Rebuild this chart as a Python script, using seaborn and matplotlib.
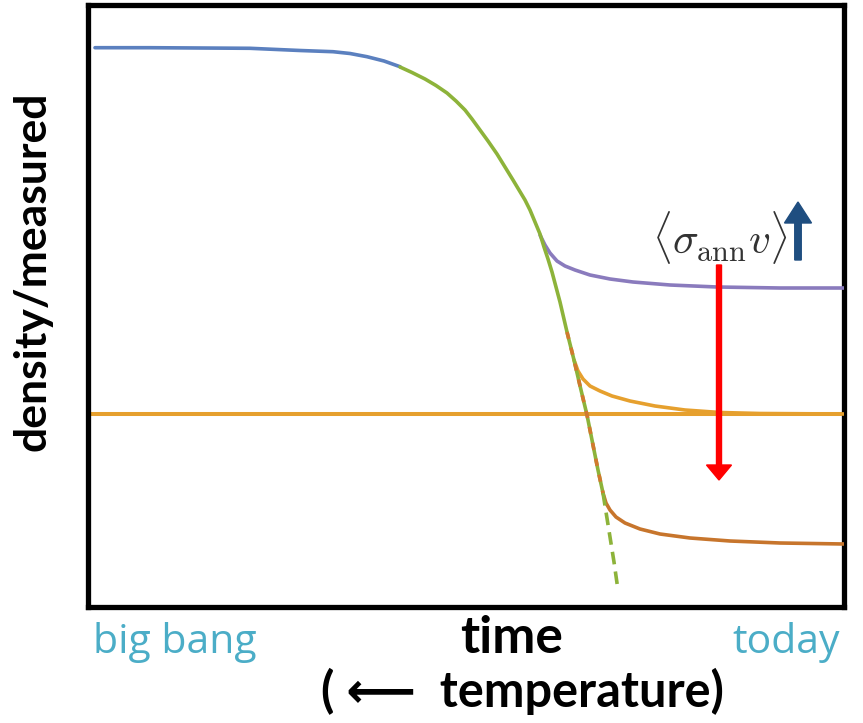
import numpy as np
import matplotlib
matplotlib.use("Agg")
import matplotlib.pyplot as plt
import seaborn as sns

# curves (x = time, y = density, arbitrary units)
blue_x = [7, 62, 112, 162, 212, 245, 262, 279, 296, 312]
blue_y = [559.3, 559.3, 559, 558.7, 556.5, 555.3, 553.5, 550.3, 546, 540.3]

green_x = [312, 324, 337, 348, 359, 368, 377, 384, 392, 400, 409, 417, 425, 431, 437, 442,
           447, 452, 456, 460, 464, 468, 472, 479, 486, 493, 499, 505, 510, 515]
green_y = [540, 534.5, 528, 521.5, 514, 506, 497, 488, 477, 466, 453, 440, 427, 417, 407, 397,
           385, 373, 360, 348, 335, 320, 305, 275, 247, 217, 192, 162, 137, 114]

green_dash_x = [515, 518, 522, 526, 530]
green_dash_y = [114, 95, 70, 45, 17]

purple_x = [452, 457, 462, 469, 477, 487, 502, 522, 545, 582, 629, 692, 756]
purple_y = [372, 362, 354, 346, 341, 337, 332, 328, 325, 322, 320, 319, 319]

orange_x = [486, 490, 495, 502, 512, 524, 542, 567, 597, 632, 672, 756]
orange_y = [247, 236, 228, 221, 216, 211, 206, 201, 197, 194.5, 193.5, 193]

brown_x = [515, 518, 522, 528, 537, 552, 572, 602, 642, 692, 756]
brown_y = [114, 104, 97, 90, 84, 78, 73, 69, 66, 64, 63]

measured = 193          # observed relic density
red_arrow = (631, 342, 127)
blue_arrow = (710, 347, 405)

sns.set_theme(style="white")
plt.rcParams["mathtext.fontset"] = "cm"
plt.rcParams["text.color"] = "black"

fig = plt.figure(figsize=(8.63, 7.23), dpi=100)
ax = fig.add_axes([88 / 863, 1 - 607 / 723, 756 / 863, 602 / 723])
ax.set_xlim(0, 756)
ax.set_ylim(0, 602)
ax.set_xticks([])
ax.set_yticks([])
for s in ax.spines.values():
    s.set_linewidth(3.8)
    s.set_color("black")

lw = 2.6
ax.axhline(measured, color="#E6A02E", lw=2.9, zorder=2)
sns.lineplot(x=purple_x, y=purple_y, ax=ax, color="#8A7BBD", lw=lw, sort=False, zorder=3)
sns.lineplot(x=orange_x, y=orange_y, ax=ax, color="#E6A02E", lw=lw, sort=False, zorder=3)
sns.lineplot(x=brown_x, y=brown_y, ax=ax, color="#C7752C", lw=lw, sort=False, zorder=3)
sns.lineplot(x=blue_x, y=blue_y, ax=ax, color="#5B80BF", lw=lw, sort=False, zorder=4)
sns.lineplot(x=green_x, y=green_y, ax=ax, color="#8DB33A", lw=lw, sort=False, zorder=4)
sns.lineplot(x=green_dash_x, y=green_dash_y, ax=ax, color="#8DB33A", lw=lw, sort=False,
             zorder=4, linestyle=(0, (3.5, 2)))
# brown dashes over the equilibrium part
sns.lineplot(x=green_x[23:], y=green_y[23:], ax=ax, color="#D2792E", lw=lw, sort=False,
             zorder=5, linestyle=(0, (2, 2.5)))

ax.arrow(red_arrow[0], red_arrow[1], 0, red_arrow[2] - red_arrow[1], width=5,
         head_width=25, head_length=15, length_includes_head=True,
         color="#FF0000", zorder=6)
ax.arrow(blue_arrow[0], blue_arrow[1], 0, blue_arrow[2] - blue_arrow[1], width=6.5,
         head_width=27, head_length=21, length_includes_head=True,
         color="#1F4E80", zorder=6)
ax.text(632, 369, r"$\langle\sigma_{\rm ann}v\rangle$", fontsize=31, color="#333333",
        ha="center", va="center")

fig.text(33 / 863, 1 - 271 / 723, "density/measured", rotation=90, fontsize=32,
         fontweight="bold", family="Lato", ha="center", va="center")
fig.text(93 / 863, 1 - 653 / 723, "big bang", fontsize=29.5, color="#4BADC7",
         family="Open Sans", ha="left", va="baseline")
fig.text(840 / 863, 1 - 653 / 723, "today", fontsize=29.5, color="#4BADC7",
         family="Open Sans", ha="right", va="baseline")
fig.text(512 / 863, 1 - 653 / 723, "time", fontsize=37, fontweight="bold",
         family="Lato", ha="center", va="baseline")
fig.text(522 / 863, 1 - 707 / 723, "( \u27f5  temperature)", fontsize=35,
         fontweight="bold", family=["Lato", "DejaVu Sans"], ha="center", va="baseline")

fig.savefig("out.png", dpi=100)
